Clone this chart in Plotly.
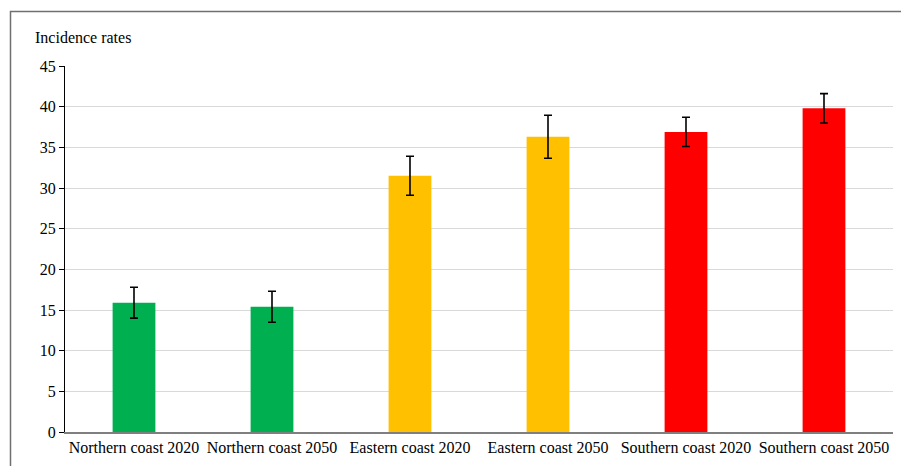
import plotly.graph_objects as go

categories = ["Northern coast 2020", "Northern coast 2050", "Eastern coast 2020",
              "Eastern coast 2050", "Southern coast 2020", "Southern coast 2050"]
values = [15.9, 15.4, 31.5, 36.3, 36.9, 39.8]
errors = [1.9, 1.9, 2.4, 2.65, 1.8, 1.8]
colors = ["#00B050", "#00B050", "#FFC000", "#FFC000", "#FF0000", "#FF0000"]
y_ticks = [0, 5, 10, 15, 20, 25, 30, 35, 40, 45]

W, H = 901, 466
L, R, T, B = 65, 8, 66, 34
pw, ph = W - L - R, H - T - B

font = dict(family="Liberation Serif, Times New Roman, serif", size=16, color="#000000")

fig = go.Figure(go.Bar(
    x=categories, y=values,
    marker=dict(color=colors, line=dict(width=0)),
    width=0.31,
    error_y=dict(type="data", array=errors, visible=True, color="#000000",
                 thickness=1.6, width=4),
))

fig.update_layout(
    width=W, height=H,
    margin=dict(l=L, r=R, t=T, b=B),
    paper_bgcolor="white", plot_bgcolor="white",
    font=font, showlegend=False,
    xaxis=dict(showline=True, linecolor="#7F7F7F", linewidth=1.5, ticks="",
               tickfont=font, showgrid=False),
    yaxis=dict(range=[0, 45], tickvals=y_ticks, showline=True, linecolor="#000000",
               linewidth=1.2, ticks="outside", ticklen=5, tickcolor="#000000",
               showgrid=True, gridcolor="#D9D9D9", gridwidth=1, tickfont=font,
               zeroline=False),
    annotations=[dict(text="Incidence rates", xref="paper", yref="paper",
                      x=(33 - L) / pw, y=(H - B - 38) / ph, xanchor="left",
                      yanchor="middle", showarrow=False,
                      font=dict(family=font["family"], size=16, color="#000000"))],
    shapes=[dict(type="rect", xref="paper", yref="paper",
                 x0=(10.5 - L) / pw, x1=1.2, y0=-0.3, y1=(H - B - 11.5) / ph,
                 line=dict(color="#6F6F6F", width=1.5), fillcolor="rgba(0,0,0,0)",
                 layer="below")],
)

fig.write_html("out.html", config={"displayModeBar": False},
               post_script="document.body.style.margin='0';document.body.style.padding='0';")
